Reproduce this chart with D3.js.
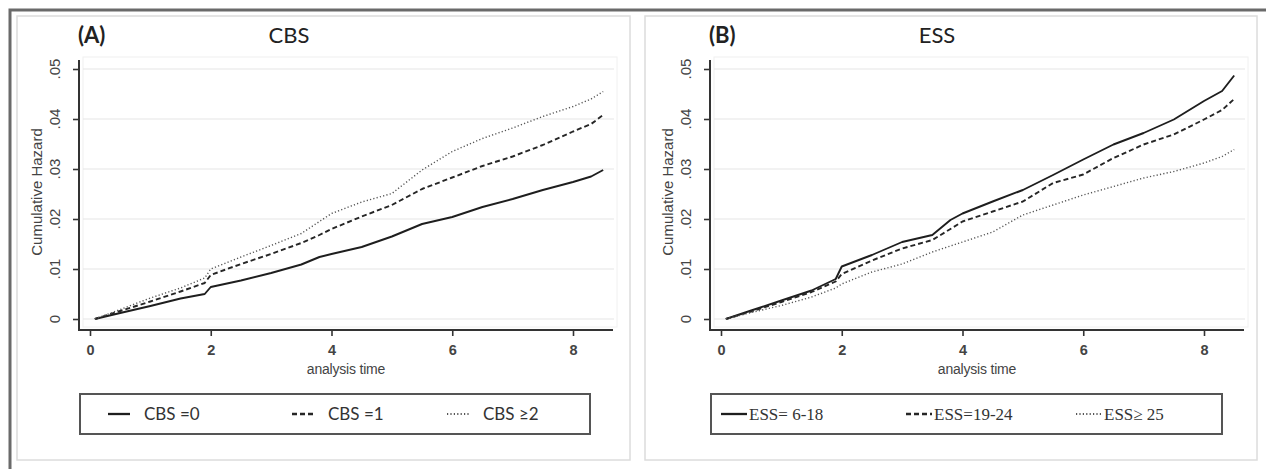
<!DOCTYPE html>
<html><head><meta charset="utf-8">
<script src="https://cdn.jsdelivr.net/npm/d3@7"></script>
<style>
body{margin:0;background:#fff;}
svg{display:block;}
</style></head>
<body>
<svg id="c" width="1266" height="469"></svg>
<script>
// ---- data ----
const timesA = [0.08, 0.5, 1, 1.5, 1.9, 2, 2.5, 3, 3.5, 3.8, 4, 4.5, 5, 5.5, 6, 6.5, 7, 7.5, 8, 8.3, 8.5];
const cbs0 = [0, .0012, .0026, .0041, .0050, .0064, .0077, .0092, .0109, .0124, .0130, .0144, .0165, .0190, .0204, .0224, .0240, .0258, .0274, .0285, .0298];
const cbs1 = [0, .0016, .0035, .0055, .0072, .0088, .0110, .0130, .0152, .0168, .0180, .0205, .0228, .0260, .0283, .0306, .0325, .0348, .0375, .0390, .0408];
const cbs2 = [0, .0019, .0042, .0062, .0082, .0100, .0124, .0147, .0171, .0195, .0211, .0234, .0251, .0298, .0335, .0361, .0382, .0405, .0425, .0440, .0455];
const timesB = [0.08, 0.5, 1, 1.5, 1.9, 2, 2.5, 3, 3.5, 3.8, 4, 4.5, 5, 5.5, 6, 6.5, 7, 7.5, 8, 8.3, 8.5];
const ess618 = [0, .0017, .0037, .0057, .0080, .0105, .0128, .0154, .0168, .0198, .0211, .0235, .0258, .0288, .0319, .0349, .0372, .0399, .0436, .0456, .0487];
const ess1924 = [0, .0015, .0034, .0054, .0075, .0090, .0117, .0141, .0158, .0180, .0195, .0215, .0235, .0272, .0289, .0322, .0349, .0369, .0399, .0418, .0440];
const ess25 = [0, .0013, .0027, .0044, .0062, .0070, .0094, .0110, .0134, .0146, .0154, .0174, .0208, .0228, .0248, .0265, .0282, .0295, .0312, .0325, .0339];
const xTicks = [0, 2, 4, 6, 8];
const yTicks = [0, .01, .02, .03, .04, .05];
const panelLabels = ["(A)", "(B)"];
const panelTitles = ["CBS", "ESS"];
const legendA = ["CBS =0", "CBS =1", "CBS  \u22652"];
const legendB = ["ESS= 6-18", "ESS=19-24", "ESS\u2265 25"];
const xLabel = "analysis time";
const yLabel = "Cumulative Hazard";

// ---- drawing ----
const svg = d3.select("#c");
svg.append("path").attr("d","M10,469V10H1266").attr("fill","none").attr("stroke","#6a6a6a").attr("stroke-width",3);

const styles = [
  {dash:null, color:"#1e1e1e", w:1.9},
  {dash:"5,3", color:"#262626", w:1.9},
  {dash:"1.2,2.2", color:"#555", w:1.4}
];

function drawPanel(cfg){
  svg.append("rect").attr("x",cfg.boxX).attr("y",16).attr("width",cfg.boxW).attr("height",444)
    .attr("fill","#fff").attr("stroke","#dcdcdc").attr("stroke-width",1.5);
  const g = svg.append("g").attr("transform",`translate(${cfg.dx},0)`);
  const x = d3.scaleLinear().domain([0,8]).range([90,573]);
  const y = d3.scaleLinear().domain([0,.05]).range([319,69]);
  // plot region
  g.append("rect").attr("x",83).attr("y",57).attr("width",534).attr("height",270)
    .attr("fill","none").attr("stroke","#f0f0f0").attr("stroke-width",1);
  // grid
  g.selectAll(".grid").data(yTicks).join("line")
    .attr("x1",83).attr("x2",614).attr("y1",d=>y(d)).attr("y2",d=>y(d))
    .attr("stroke","#e6e6e6").attr("stroke-width",1.2);
  // axes
  const xa = g.append("g").attr("transform","translate(0,330)")
    .call(d3.axisBottom(x).tickValues(xTicks).tickSize(6).tickSizeOuter(0).tickPadding(9));
  xa.select(".domain").remove();
  g.append("line").attr("x1",78).attr("x2",613).attr("y1",330).attr("y2",330).attr("stroke","#333").attr("stroke-width",2);
  xa.selectAll(".tick line").attr("stroke","#333").attr("stroke-width",1.6);
  xa.selectAll("text").attr("font-family","Liberation Sans, Arial, sans-serif").attr("font-size",14.5).attr("fill","#444").attr("font-weight","bold");
  const ya = g.append("g").attr("transform","translate(79,0)")
    .call(d3.axisLeft(y).tickValues(yTicks).tickSize(6).tickSizeOuter(0).tickFormat(()=>""));
  ya.select(".domain").remove();
  g.append("line").attr("x1",79).attr("x2",79).attr("y1",60).attr("y2",331).attr("stroke","#333").attr("stroke-width",2);
  ya.selectAll(".tick line").attr("stroke","#333").attr("stroke-width",1.6);
  g.selectAll(".ylab").data(yTicks).join("text")
    .attr("transform",d=>`translate(55,${y(d)}) rotate(-90)`)
    .attr("text-anchor","middle").attr("dy","0.35em")
    .attr("font-family","Liberation Sans, Arial, sans-serif").attr("font-size",15).attr("fill","#444")
    .text(d=> d===0 ? "0" : d3.format(".2f")(d).replace(/^0/,""));
  g.append("text").attr("transform",`translate(37,192) rotate(-90)`).attr("text-anchor","middle").attr("dy","0.35em")
    .attr("font-family","Liberation Sans, Arial, sans-serif").attr("font-size",15).attr("fill","#444")
    .text(yLabel);
  g.append("text").attr("x",346).attr("y",374).attr("text-anchor","middle")
    .attr("font-family","Liberation Sans, Arial, sans-serif").attr("font-size",14).attr("fill","#444")
    .attr("letter-spacing","-0.2")
    .text(xLabel);
  // titles
  g.append("text").attr("x",78).attr("y",43).attr("font-family","Lato, Open Sans, sans-serif").attr("font-weight","bold")
    .attr("font-size",22).attr("fill","#222").text(cfg.label);
  g.append("text").attr("x",cfg.titleX).attr("y",43).attr("text-anchor","middle").attr("font-family","Lato, Open Sans, sans-serif")
    .attr("font-size",22).attr("fill","#222").text(cfg.title);
  // lines
  const line = d3.line().x(d=>x(d[0])).y(d=>y(d[1]));
  cfg.series.forEach((s,i)=>{
    const pts = cfg.times.map((t,j)=>[t,s[j]]);
    g.append("path").attr("d",line(pts)).attr("fill","none")
      .attr("stroke",styles[i].color).attr("stroke-width",styles[i].w)
      .attr("stroke-dasharray",styles[i].dash).attr("stroke-linejoin","round");
  });
  // legend
  g.append("rect").attr("x",80).attr("y",394).attr("width",cfg.legW).attr("height",40)
    .attr("fill","#fff").attr("stroke","#555").attr("stroke-width",2);
  cfg.legend.forEach((txt,i)=>{
    const lx = cfg.legPos[i];
    g.append("line").attr("x1",lx).attr("x2",lx+cfg.sampleW).attr("y1",414).attr("y2",414)
      .attr("stroke",styles[i].color).attr("stroke-width",styles[i].w+0.4).attr("stroke-dasharray",styles[i].dash);
    g.append("text").attr("x",lx+cfg.sampleW+cfg.gap).attr("y",414).attr("dy","0.35em")
      .attr("font-family",cfg.legFont).attr("font-size",cfg.legSize).attr("fill","#333").text(txt);
  });
}

drawPanel({dx:0, boxX:17, boxW:613, label:panelLabels[0], title:panelTitles[0], titleX:289, times:timesA, series:[cbs0,cbs1,cbs2],
  legend:legendA, legW:510, legPos:[108,292,447], sampleW:22, gap:14, legFont:"Lato, Open Sans, sans-serif", legSize:17});
drawPanel({dx:631, boxX:645, boxW:612, label:panelLabels[1], title:panelTitles[1], titleX:306, times:timesB, series:[ess618,ess1924,ess25],
  legend:legendB, legW:511, legPos:[90,275,445], sampleW:26, gap:2, legFont:"Liberation Serif, Times New Roman, serif", legSize:17});
</script>
</body></html>
